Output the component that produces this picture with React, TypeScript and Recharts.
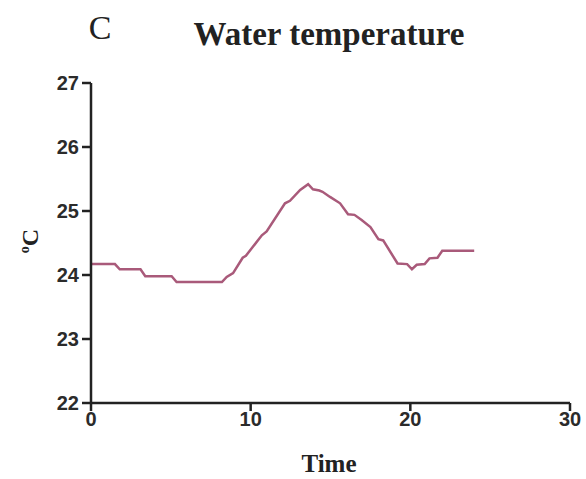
import React from 'react';
import { LineChart, Line, XAxis, YAxis } from 'recharts';

// logged water temperature (°C) against time
const times = [
  0, 1.5, 1.8, 3.1, 3.4, 5.05, 5.36, 8.2, 8.5, 8.9, 9.5, 9.7, 10.7, 11.0, 12.15, 12.46,
  13.1, 13.6, 13.9, 14.3, 14.5, 14.97, 15.6, 16.1, 16.5, 16.95, 17.5, 18.0, 18.3, 19.2,
  19.8, 20.1, 20.4, 20.9, 21.2, 21.7, 22.0, 24.0,
];
const temps = [
  24.17, 24.17, 24.09, 24.09, 23.98, 23.98, 23.89, 23.89, 23.97, 24.03, 24.27, 24.3, 24.62,
  24.68, 25.12, 25.16, 25.33, 25.42, 25.34, 25.32, 25.3, 25.22, 25.12, 24.95, 24.94, 24.86,
  24.75, 24.56, 24.54, 24.18, 24.17, 24.09, 24.16, 24.17, 24.26, 24.27, 24.38, 24.38,
];
const xTicks = [0, 10, 20, 30];
const yTicks = [22, 23, 24, 25, 26, 27];

const data = times.map((t, i) => ({ time: t, temp: temps[i] }));

const tickStyle = { fill: '#2b2b2b', fontSize: 20, fontWeight: 700, fontFamily: 'Liberation Sans, Arial, sans-serif' };
const serif = 'Liberation Serif, Times New Roman, serif';
const axisStroke = { stroke: '#222', strokeWidth: 2.5 };

const App: React.FC = () => (
  <div style={{ position: 'absolute', left: 0, top: 0, width: 586, height: 479, background: '#fff' }}>
    <LineChart width={586} height={479} data={data} margin={{ top: 83, right: 16, bottom: 46, left: 41 }}>
      <XAxis
        dataKey="time"
        type="number"
        domain={[0, 30]}
        ticks={xTicks}
        interval={0}
        height={30}
        axisLine={axisStroke}
        tickLine={axisStroke}
        tickSize={8}
        tickMargin={1}
        tick={tickStyle}
      />
      <YAxis
        type="number"
        domain={[22, 27]}
        ticks={yTicks}
        interval={0}
        width={50}
        axisLine={axisStroke}
        tickLine={axisStroke}
        tickSize={9}
        tickMargin={3}
        tick={tickStyle}
      />
      <Line
        type="linear"
        dataKey="temp"
        stroke="#a95a7a"
        strokeWidth={2.5}
        dot={false}
        isAnimationActive={false}
      />
      <text x={100} y={39} textAnchor="middle" fontFamily={serif} fontSize={34} fill="#222">C</text>
      <text x={329} y={45} textAnchor="middle" fontFamily={serif} fontSize={33} fontWeight={700} fill="#222">
        Water temperature
      </text>
      <text x={329} y={472} textAnchor="middle" fontFamily={serif} fontSize={25} fontWeight={700} fill="#222">
        Time
      </text>
      <text
        x={38}
        y={241}
        transform="rotate(-90 38 241)"
        textAnchor="middle"
        fontFamily={serif}
        fontSize={24}
        fontWeight={700}
        fill="#222"
      >
        <tspan fontSize={14} dy={-9}>o</tspan>
        <tspan dy={9}>C</tspan>
      </text>
    </LineChart>
  </div>
);

export default App;
